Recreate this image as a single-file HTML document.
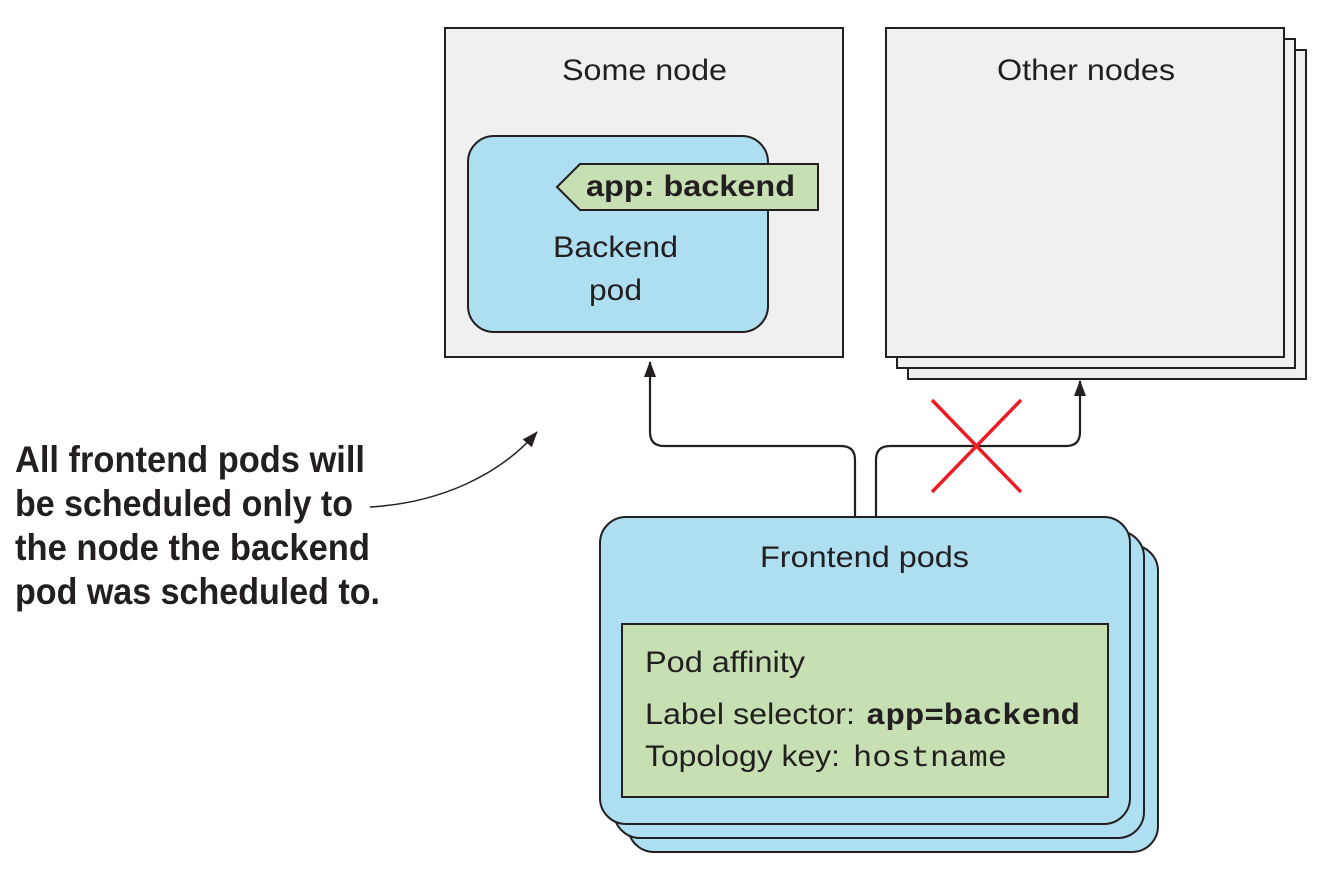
<!DOCTYPE html>
<html><head><meta charset="utf-8"><style>html,body{margin:0;padding:0;background:#fff}svg{display:block}</style></head>
<body>
<svg width="1332" height="875" viewBox="0 0 1332 875" xmlns="http://www.w3.org/2000/svg" font-family="Liberation Sans, sans-serif">
<defs><marker id="ah" markerWidth="16" markerHeight="12" refX="15" refY="6" orient="auto" markerUnits="userSpaceOnUse" viewBox="0 0 16 12"><path d="M0,0 L16,6 L0,12 Z" fill="#231f20"/></marker></defs>
<!-- Some node -->
<rect x="445" y="28" width="398" height="329" fill="#f0f0f0" stroke="#231f20" stroke-width="2"/>
<text x="562" y="80" font-size="30" textLength="165" lengthAdjust="spacingAndGlyphs" fill="#231f20">Some node</text>
<rect x="468" y="136" width="300" height="196" rx="26" fill="#addff0" stroke="#231f20" stroke-width="2"/>
<polygon points="557,187 580,164 818,164 818,210 580,210" fill="#c6e0b4" stroke="#231f20" stroke-width="2"/>
<text x="586" y="196" font-size="30" font-weight="bold" textLength="209" lengthAdjust="spacingAndGlyphs" fill="#231f20">app: backend</text>
<text x="553" y="257" font-size="30" textLength="125" lengthAdjust="spacingAndGlyphs" fill="#231f20">Backend</text>
<text x="589" y="300" font-size="30" textLength="53" lengthAdjust="spacingAndGlyphs" fill="#231f20">pod</text>
<!-- Other nodes -->
<rect x="908" y="50" width="398" height="329" fill="#f0f0f0" stroke="#231f20" stroke-width="2"/>
<rect x="897" y="39" width="398" height="329" fill="#f0f0f0" stroke="#231f20" stroke-width="2"/>
<rect x="886" y="28" width="398" height="329" fill="#f0f0f0" stroke="#231f20" stroke-width="2"/>
<text x="997" y="80" font-size="30" textLength="178" lengthAdjust="spacingAndGlyphs" fill="#231f20">Other nodes</text>
<!-- connectors -->
<path d="M855,517 V460 Q855,446 841,446 H664 Q650,446 650,432 V362" fill="none" stroke="#231f20" stroke-width="2.2" marker-end="url(#ah)"/>
<path d="M876,517 V460 Q876,446 890,446 H1066 Q1080,446 1080,432 V381" fill="none" stroke="#231f20" stroke-width="2.2" marker-end="url(#ah)"/>
<line x1="932" y1="400" x2="1021" y2="492" stroke="#ed1c24" stroke-width="3.5"/>
<line x1="1021" y1="400" x2="932" y2="492" stroke="#ed1c24" stroke-width="3.5"/>
<path d="M370,507 C440,503 500,475 537,432" fill="none" stroke="#231f20" stroke-width="1.5" marker-end="url(#ah)"/>
<!-- Frontend pods -->
<rect x="628" y="545" width="530" height="307" rx="26" fill="#addff0" stroke="#231f20" stroke-width="2"/>
<rect x="614" y="531" width="530" height="307" rx="26" fill="#addff0" stroke="#231f20" stroke-width="2"/>
<rect x="600" y="517" width="530" height="307" rx="26" fill="#addff0" stroke="#231f20" stroke-width="2"/>
<text x="760" y="567" font-size="30" textLength="209" lengthAdjust="spacingAndGlyphs" fill="#231f20">Frontend pods</text>
<rect x="622" y="624" width="486" height="173" fill="#c6e0b4" stroke="#231f20" stroke-width="2"/>
<text x="645" y="672" font-size="30" textLength="160" lengthAdjust="spacingAndGlyphs" fill="#231f20">Pod affinity</text>
<text x="645" y="724" font-size="30" textLength="210" lengthAdjust="spacingAndGlyphs" fill="#231f20">Label selector:</text>
<text x="866" y="724" font-family="Liberation Mono, monospace" font-weight="bold" font-size="30" textLength="214" lengthAdjust="spacingAndGlyphs" fill="#231f20">app=backend</text>
<text x="645" y="766" font-size="30" textLength="195" lengthAdjust="spacingAndGlyphs" fill="#231f20">Topology key:</text>
<text x="853" y="766" font-family="Liberation Mono, monospace" font-size="30" textLength="154" lengthAdjust="spacingAndGlyphs" fill="#231f20">hostname</text>
<!-- annotation -->
<g font-family="Liberation Sans Narrow, Liberation Sans, sans-serif" font-weight="bold" font-size="37" fill="#231f20">
<text x="15" y="472" textLength="350" lengthAdjust="spacingAndGlyphs">All frontend pods will</text>
<text x="15" y="516" textLength="338" lengthAdjust="spacingAndGlyphs">be scheduled only to</text>
<text x="15" y="560" textLength="355" lengthAdjust="spacingAndGlyphs">the node the backend</text>
<text x="15" y="604" textLength="365" lengthAdjust="spacingAndGlyphs">pod was scheduled to.</text>
</g>
</svg>
</body></html>
